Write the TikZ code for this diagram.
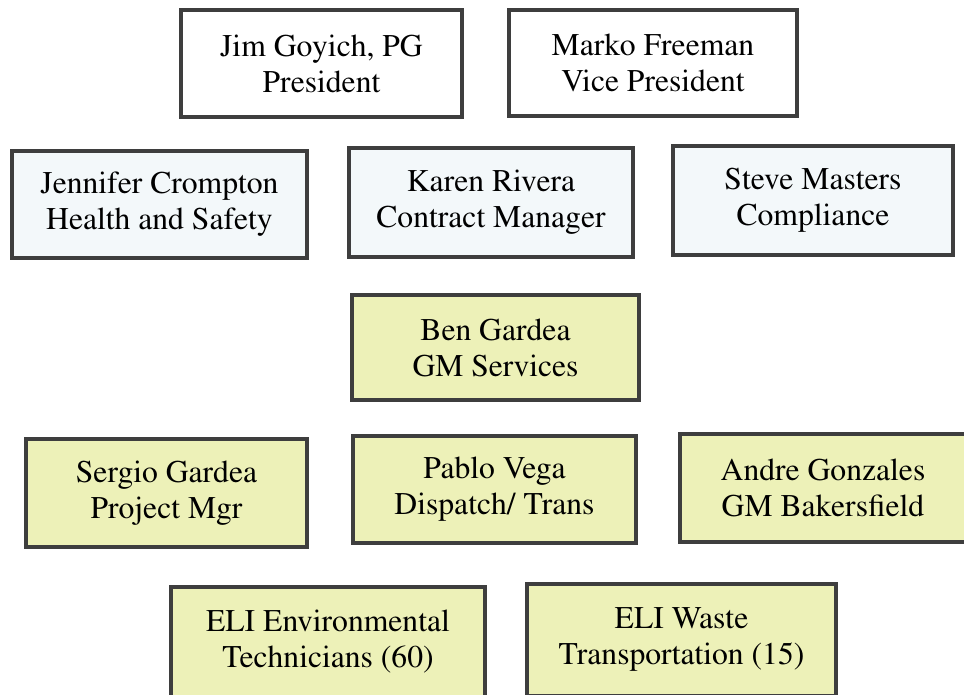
\documentclass[tikz,border=0pt]{standalone}
\usepackage[T1]{fontenc}
\usepackage{mathptmx}
\usepackage{tikz}
\usepackage{xcolor}
\definecolor{staffblue}{RGB}{243,248,250}
\definecolor{opsyellow}{RGB}{237,241,184}
\definecolor{boxline}{RGB}{62,62,62}

\begin{document}
\begin{tikzpicture}[x=0.02cm,y=-0.02cm]
\tikzstyle{every node}=[draw=boxline,line width=1.8pt,align=center,text=black,
  font=\fontsize{18}{20.5}\selectfont]
\tikzstyle{headbox}=[fill=white]
\tikzstyle{staffbox}=[fill=staffblue]
\tikzstyle{opsbox}=[fill=opsyellow]
\useasboundingbox (0,0) rectangle (964,694);
\clip (0,0) rectangle (964,694);
\node[headbox,minimum width=5.62cm,minimum height=2.14cm] (pres) at (321.5,63.5) {Jim Goyich, PG\\President};
\node[headbox,minimum width=5.76cm,minimum height=2.12cm] (vp) at (653,63) {Marko Freeman\\Vice President};
\node[staffbox,minimum width=5.90cm,minimum height=2.14cm] (hs) at (159.5,204.5) {Jennifer Crompton\\Health and Safety};
\node[staffbox,minimum width=5.68cm,minimum height=2.18cm] (cm) at (491,202.5) {Karen Rivera\\Contract Manager};
\node[staffbox,minimum width=5.60cm,minimum height=2.18cm] (comp) at (813,200.5) {Steve Masters\\Compliance};
\node[opsbox,minimum width=5.74cm,minimum height=2.10cm] (gm) at (495.5,347.5) {Ben Gardea\\GM Services};
\node[opsbox,minimum width=5.62cm,minimum height=2.16cm] (pm) at (166.5,493) {Sergio Gardea\\Project Mgr};
\node[opsbox,minimum width=5.66cm,minimum height=2.14cm] (disp) at (494.5,489.5) {Pablo Vega\\Dispatch/ Trans};
\node[opsbox,minimum width=5.72cm,minimum height=2.16cm] (bak) at (823,488) {Andre Gonzales\\GM Bakersfield};
\node[opsbox,minimum width=6.28cm,minimum height=2.20cm] (tech) at (328,642) {ELI Environmental\\Technicians (60)};
\node[opsbox,minimum width=6.18cm,minimum height=2.24cm] (waste) at (681.5,640) {ELI Waste\\Transportation (15)};
\end{tikzpicture}
\end{document}
